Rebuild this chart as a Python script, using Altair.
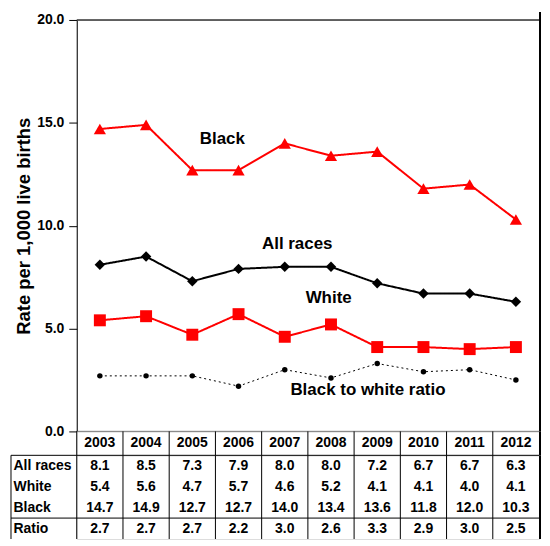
import altair as alt
import pandas as pd

years = [2003, 2004, 2005, 2006, 2007, 2008, 2009, 2010, 2011, 2012]
all_races = [8.1, 8.5, 7.3, 7.9, 8.0, 8.0, 7.2, 6.7, 6.7, 6.3]
white = [5.4, 5.6, 4.7, 5.7, 4.6, 5.2, 4.1, 4.1, 4.0, 4.1]
black = [14.7, 14.9, 12.7, 12.7, 14.0, 13.4, 13.6, 11.8, 12.0, 10.3]
ratio = [2.7, 2.7, 2.7, 2.2, 3.0, 2.6, 3.3, 2.9, 3.0, 2.5]
row_names = ["All races", "White", "Black", "Ratio"]
y_ticks = [0, 5, 10, 15, 20]
label_text = ["Black", "All races", "White", "Black to white ratio"]
label_x = [2005.65, 2007.27, 2007.95, 2008.8]
label_y = [14.2, 9.1, 6.5, 2.0]

FONT = "Liberation Sans"
W = 464
H = 413
HEAD_H = 24
TAB_H = 84
BORDER_X = 465

series = {"Black": black, "All races": all_races, "White": white, "Ratio": ratio}
style = {
    "Black": dict(color="#FF0000", shape="triangle-up", size=150, sw=2, dash=[1, 0]),
    "All races": dict(color="#000000", shape="diamond", size=110, sw=2, dash=[1, 0]),
    "White": dict(color="#FF0000", shape="square", size=144, sw=2, dash=[1, 0]),
    "Ratio": dict(color="#000000", shape="circle", size=30, sw=1, dash=[2, 3]),
}

long = pd.DataFrame(
    [{"series": s, "year": y, "value": v} for s, vals in series.items() for y, v in zip(years, vals)]
)

x_scale = alt.Scale(domain=[2002.5, 2012.5], nice=False, zero=False)
X = alt.X("year:Q", scale=x_scale, axis=None)

Y = alt.Y(
    "value:Q",
    scale=alt.Scale(domain=[0, 20], nice=False),
    axis=alt.Axis(
        values=y_ticks, format=".1f", title="Rate per 1,000 live births",
        titleFontSize=18.5, titleFontWeight="bold", titleColor="black", titlePadding=3,
        labelFontSize=14, labelFontWeight="bold", labelColor="black", labelPadding=5,
        tickSize=8, tickColor="black", domainColor="black", grid=False,
    ),
)

layers = []
layers.append(alt.Chart(pd.DataFrame({"value": [20]})).mark_rule(color="#333333", strokeWidth=1.5).encode(y=Y))
layers.append(alt.Chart(pd.DataFrame({"value": [0]})).mark_rule(color="black", strokeWidth=1).encode(y=Y))

for s in series:
    st = style[s]
    d = long[long.series == s]
    layers.append(
        alt.Chart(d).mark_line(color=st["color"], strokeWidth=st["sw"], strokeDash=st["dash"]).encode(x=X, y=Y)
    )
    layers.append(
        alt.Chart(d).mark_point(filled=True, shape=st["shape"], size=st["size"], color=st["color"], opacity=1).encode(x=X, y=Y)
    )

ann = pd.DataFrame({"label": label_text, "year": label_x, "value": label_y})
layers.append(
    alt.Chart(ann).mark_text(fontSize=17, fontWeight="bold", color="black").encode(x=X, y=Y, text="label:N")
)
layers.append(
    alt.Chart(pd.DataFrame({"a": [0]})).mark_rule(color="black", strokeWidth=2).encode(
        x=alt.value(BORDER_X), y=alt.value(-8), y2=alt.value(H)
    )
)
top = alt.layer(*layers).properties(width=W, height=H)

edges = pd.DataFrame({"year": [y - 0.5 for y in years]})
hdr = pd.DataFrame({"year": years, "label": [str(y) for y in years]})
header = alt.layer(
    alt.Chart(edges).mark_rule(color="black", strokeWidth=1).encode(x=X),
    alt.Chart(hdr).mark_text(fontSize=14, fontWeight="bold", color="black").encode(x=X, text="label:N"),
    alt.Chart(pd.DataFrame({"a": [0]})).mark_rule(color="black", strokeWidth=2).encode(
        x=alt.value(BORDER_X), y=alt.value(0), y2=alt.value(HEAD_H)
    ),
).properties(width=W, height=HEAD_H)

tab = pd.DataFrame(
    [{"row": r, "year": y, "text": f"{v:.1f}"} for r, vals in zip(row_names, [all_races, white, black, ratio]) for y, v in zip(years, vals)]
)
row_scale = alt.Scale(type="band", domain=row_names, paddingInner=0, paddingOuter=0)
row_axis = alt.Axis(
    title=None, ticks=False, domain=False, labelAlign="left", labelPadding=64,
    labelFontSize=14, labelFontWeight="bold", labelColor="black", grid=False,
)
seps = pd.DataFrame({"row": ["All races", "Ratio"]})
table = alt.layer(
    alt.Chart(tab).mark_text(fontSize=14, fontWeight="bold", color="black").encode(
        x=X, y=alt.Y("row:N", scale=row_scale, axis=row_axis, sort=None), text="text:N"
    ),
    alt.Chart(edges).mark_rule(color="black", strokeWidth=1).encode(x=X),
    alt.Chart(seps).mark_rule(color="black", strokeWidth=1).encode(
        y=alt.Y("row:N", scale=row_scale, axis=row_axis, sort=None, bandPosition=0),
        x=alt.value(-66), x2=alt.value(W),
    ),
    alt.Chart(pd.DataFrame({"a": [0]})).mark_rule(color="black", strokeWidth=1).encode(
        x=alt.value(-66), y=alt.value(0), y2=alt.value(TAB_H)
    ),
    alt.Chart(pd.DataFrame({"a": [0]})).mark_rule(color="black", strokeWidth=2).encode(
        x=alt.value(BORDER_X), y=alt.value(0), y2=alt.value(TAB_H)
    ),
).properties(width=W, height=TAB_H)

chart = (
    alt.vconcat(top, header, table, spacing=0, bounds="flush")
    .properties(padding={"left": 2, "top": 1, "right": 0, "bottom": 0})
    .configure_view(stroke=None)
    .configure(font=FONT)
)

chart.save("out.html", embed_options={"renderer": "svg", "actions": False})
